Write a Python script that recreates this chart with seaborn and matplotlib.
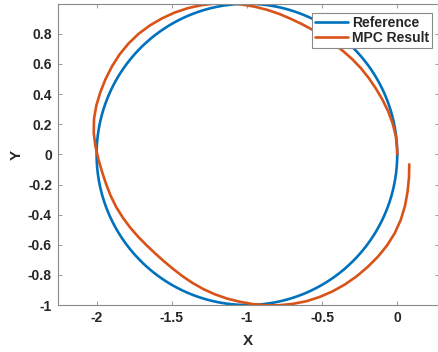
import numpy as np
import pandas as pd
import seaborn as sns
import matplotlib.pyplot as plt

# Reference trajectory: unit circle centred at (-1, 0)
ref_center = (-1.0, 0.0)
ref_radius = 1.0

# MPC result, read off the picture as angle (deg, around the reference centre)
# and distance from the reference centre, from start to end of the run
mpc_angle_deg = [-3.5, -8, -13, -18, -23, -28, -33, -38, -43, -48,
                 -53, -58, -63, -68, -73, -78, -83, -88, -93, -98,
                 -103, -108, -113, -118, -123, -128, -133, -138, -143, -148,
                 -153, -158, -163, -168, -173, -178, -183, -188, -193, -198,
                 -203, -208, -213, -218, -223, -228, -233, -238, -243, -248,
                 -253, -258, -263, -268, -273, -278, -283, -288, -293, -298,
                 -303, -308, -313, -318, -323, -328, -333, -338, -343, -348,
                 -353, -358, -360]
mpc_radius = [1.082, 1.089, 1.097, 1.106, 1.112, 1.114, 1.111, 1.105, 1.097, 1.090,
              1.082, 1.073, 1.063, 1.052, 1.038, 1.024, 1.009, 0.994, 0.979, 0.966,
              0.953, 0.940, 0.927, 0.915, 0.905, 0.899, 0.897, 0.900, 0.907, 0.916,
              0.926, 0.937, 0.947, 0.957, 0.970, 0.988, 1.009, 1.029, 1.044, 1.053,
              1.059, 1.065, 1.071, 1.076, 1.078, 1.077, 1.072, 1.065, 1.057, 1.047,
              1.036, 1.024, 1.011, 0.996, 0.982, 0.969, 0.957, 0.946, 0.939, 0.935,
              0.933, 0.934, 0.938, 0.944, 0.950, 0.956, 0.963, 0.972, 0.982, 0.991,
              0.998, 1.000, 1.000]

x_ticks = [-2, -1.5, -1, -0.5, 0]
x_labels = ["-2", "-1.5", "-1", "-0.5", "0"]
y_ticks = [-1, -0.8, -0.6, -0.4, -0.2, 0, 0.2, 0.4, 0.6, 0.8]
y_labels = ["-1", "-0.8", "-0.6", "-0.4", "-0.2", "0", "0.2", "0.4", "0.6", "0.8"]

theta = np.linspace(0, 2 * np.pi, 400)
ref_df = pd.DataFrame({"x": ref_center[0] + ref_radius * np.cos(theta),
                       "y": ref_center[1] - ref_radius * np.sin(theta)})

# polar -> cartesian around the reference centre
phi = np.deg2rad(mpc_angle_deg)
r = np.array(mpc_radius)
mpc_df = pd.DataFrame({"x": ref_center[0] + r * np.cos(phi),
                       "y": ref_center[1] + r * np.sin(phi)})

sns.set_style("ticks")
plt.rcParams["font.family"] = ["Liberation Sans", "DejaVu Sans"]

fig = plt.figure(figsize=(4.39, 3.52), dpi=100)
ax = fig.add_axes([0.131, 0.1335, 0.868, 0.855])

sns.lineplot(data=ref_df, x="x", y="y", sort=False, estimator=None,
             color="#0072BD", linewidth=1.9, label="Reference", ax=ax)
sns.lineplot(data=mpc_df, x="x", y="y", sort=False, estimator=None,
             color="#D95319", linewidth=1.9, label="MPC Result", ax=ax)

ax.set_xlim(-2.26, 0.275)
ax.set_ylim(-1.0, 0.998)
ax.set_xticks(x_ticks)
ax.set_xticklabels(x_labels)
ax.set_yticks(y_ticks)
ax.set_yticklabels(y_labels)

for s in ax.spines.values():
    s.set_visible(True)
    s.set_color("#8a8a8a")
    s.set_linewidth(0.8)
ax.tick_params(direction="in", length=3, width=0.6, color="#8a8a8a",
               top=True, right=True, labelsize=10, labelcolor="#262626", pad=4)
for lab in ax.get_xticklabels() + ax.get_yticklabels():
    lab.set_fontweight("bold")

ax.set_xlabel("X", fontsize=11, fontweight="bold", color="#262626", labelpad=7)
ax.set_ylabel("Y", fontsize=11, fontweight="bold", color="#262626", labelpad=3)

leg = ax.legend(loc="upper right", bbox_to_anchor=(0.983, 0.970), borderaxespad=0,
                prop={"weight": "bold", "size": 10}, handlelength=2.4,
                fancybox=False, framealpha=1, edgecolor="#8a8a8a",
                borderpad=0.2, labelspacing=0.1, handletextpad=0.3)
leg.get_frame().set_linewidth(0.8)

fig.savefig("out.png", dpi=100)
